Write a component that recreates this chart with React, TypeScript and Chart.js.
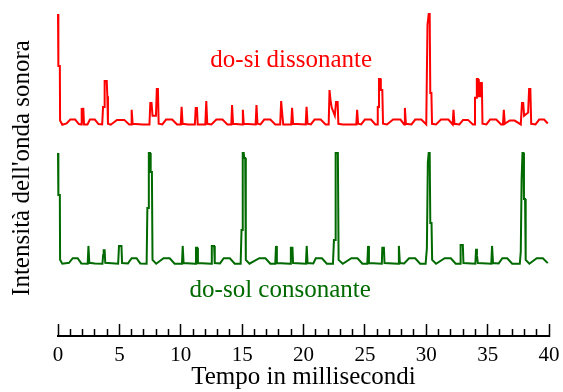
import React, { useEffect, useRef } from "react";
import { Chart, registerables } from "chart.js";

Chart.register(...registerables);

// ---- Data (time in ms, intensity on an arbitrary 0..~104 scale) ----
const RED_X = [
  0, 0.03, 0.15, 0.17, 0.35, 0.7, 1.0, 1.4, 1.7, 1.9, 1.93, 2.0, 2.06, 2.12, 2.4, 2.6, 3.0, 3.3,
  3.6, 3.67, 3.75, 3.8, 3.97, 4.02, 4.07, 4.3, 4.8, 5.4, 5.8, 5.95, 6.0, 6.08, 6.9,
  7.45, 7.52, 7.62, 7.7, 7.98, 8.05, 8.14, 8.2, 8.5, 8.8, 9.3, 9.7, 10.0, 10.07, 10.15, 10.6,
  11.15, 11.22, 11.32, 11.38, 12.0, 12.08, 12.16, 12.5, 12.9, 13.4, 13.8, 14.12, 14.18, 14.26,
  15.0, 15.06, 15.13, 16.1, 16.17, 16.25, 16.5, 16.8, 17.3, 17.7, 18.1, 18.18, 18.28, 18.35,
  19.0, 19.07, 19.15, 20.18, 20.25, 20.33, 20.6, 20.9, 21.4, 21.8, 22.05, 22.12, 22.2, 22.3,
  22.55, 22.65, 22.78, 22.84, 23.2, 24.3, 24.37, 24.45, 24.7, 25.0, 25.5, 25.85, 26.0, 26.05,
  26.12, 26.15, 26.27, 26.3, 26.42, 26.48, 26.8, 27.3, 27.9, 28.2, 28.26, 28.34, 28.8, 29.1,
  29.6, 30.0, 30.1, 30.2, 30.28, 30.33, 30.42, 30.47, 30.8, 31.2, 31.8, 32.15, 32.22, 32.3,
  32.7, 33.0, 33.4, 33.8, 33.92, 33.97, 34.08, 34.12, 34.22, 34.28, 34.4, 34.43, 34.53, 34.58,
  34.9, 35.2, 35.7, 36.1, 36.25, 36.32, 36.4, 36.8, 37.2, 37.7, 37.8, 37.9, 37.97, 38.3,
  38.38, 38.48, 38.55, 38.9, 39.2, 39.6, 39.9,
];
const RED_Y = [
  99.4, 83.3, 83.3, 66.5, 65.2, 65.6, 66.8, 66.8, 65.4, 65.3, 70.4, 68, 70.4, 65.3, 65.3, 66.8, 66.8, 65.4,
  65.3, 70.7, 70.7, 78.7, 78.7, 74, 65.5, 65.2, 66.7, 66.7, 65.3, 65.3, 69.8, 65.5, 65.3,
  65.3, 71.9, 71.9, 68, 68, 76.2, 76.2, 65.5, 65.3, 66.8, 66.8, 65.3, 65.3, 70.7, 65.5, 65.3,
  65.3, 70.4, 70.4, 65.3, 65.3, 72.5, 65.5, 65.3, 66.8, 66.8, 65.3, 65.3, 71.3, 65.5,
  65.3, 69.8, 65.5, 65.3, 71.3, 65.5, 65.3, 66.8, 66.8, 65.3, 65.3, 72.5, 68, 65.3,
  65.3, 70.4, 65.5, 65.3, 70.7, 65.5, 65.3, 66.8, 66.8, 65.3, 65.3, 75.9, 72.8, 70.5,
  68, 72.2, 72.2, 65.5, 65.3, 65.3, 69.8, 65.5, 65.3, 66.8, 66.8, 65.3, 65.3, 70.7,
  70.7, 79.3, 79.3, 75.9, 75.9, 65.5, 65.3, 66.8, 66.8, 65.3, 70.4, 65.5, 65.3, 66.8,
  66.8, 65.3, 96, 99.4, 99.4, 75, 75, 65.5, 65.3, 66.8, 66.8, 65.3, 69.8, 65.5,
  65.3, 66.7, 66.7, 65.3, 65.3, 73.5, 73.5, 79.3, 79.3, 74, 74, 78.1, 78.1, 65.5,
  65.3, 66.8, 66.8, 65.3, 65.3, 69.8, 65.5, 66.5, 66.5, 65.3, 71.9, 71.9, 68, 69,
  76.2, 76.2, 65.5, 65.3, 66.8, 66.8, 65.6,
];

const GREEN_X = [
  0, 0.03, 0.15, 0.17, 0.35, 0.9, 1.2, 1.6, 1.9, 2.42, 2.48, 2.55, 3.0, 3.62, 3.68, 3.72, 3.8, 3.85,
  4.9, 4.97, 5.17, 5.22, 5.7, 6.0, 6.4, 6.7, 7.22, 7.28, 7.35, 7.4, 7.5, 7.55, 7.65, 7.7, 8.0,
  8.6, 9.1, 9.5, 10.1, 10.16, 10.23, 11.18, 11.24, 11.34, 11.4, 12.48, 12.53, 12.72, 12.77,
  13.2, 13.5, 14.0, 14.4, 14.88, 14.95, 15.02, 15.05, 15.13, 15.17, 15.25, 15.3, 15.6, 16.4,
  16.9, 17.3, 17.7, 17.76, 17.83, 18.92, 18.97, 19.1, 19.15, 20.2, 20.26, 20.33, 20.8, 21.0,
  21.5, 21.9, 22.4, 22.48, 22.58, 22.62, 22.8, 22.86, 23.2, 23.9, 24.4, 24.8, 25.2, 25.26,
  25.33, 26.38, 26.42, 26.55, 26.6, 27.7, 27.77, 27.85, 28.2, 28.6, 29.1, 29.5, 29.95, 30.05,
  30.13, 30.2, 30.28, 30.33, 30.43, 30.48, 30.8, 31.5, 32.0, 32.4, 32.75, 32.8, 32.98, 33.03,
  34.0, 34.06, 34.13, 34.2, 35.3, 35.36, 35.44, 35.9, 36.2, 36.6, 37.0, 37.62, 37.7, 37.77,
  37.84, 37.92, 37.96, 38.05, 38.1, 38.4, 39.0, 39.5, 39.9,
];
const GREEN_Y = [
  56.5, 43.5, 43.5, 23.5, 22.3, 22.6, 24, 24, 22.4, 22.3, 27.8, 22.6, 22.4, 22.3, 25, 26.5, 26.5, 22.6,
  22.3, 27.8, 27.8, 22.5, 22.4, 24, 24, 22.4, 22.3, 39.5, 39.5, 56.5, 56.5, 50.6, 50.6, 23.5, 22.3,
  24, 24, 22.3, 22.3, 27.8, 22.5, 22.3, 27.2, 27.2, 22.5, 22.3, 27.8, 27.8, 22.5,
  22.4, 24, 24, 22.3, 22.3, 32.7, 32.7, 56.5, 56.5, 54.9, 54.9, 23.5, 22.3, 24,
  24, 22.3, 22.3, 27.8, 22.5, 22.3, 27.2, 27.2, 22.5, 22.3, 27.8, 22.5, 22.4, 24,
  24, 22.3, 22.3, 29.6, 29.6, 56.5, 56.5, 23.5, 22.3, 24, 24, 22.3, 22.3, 27.8,
  22.5, 22.3, 27.2, 27.2, 22.5, 22.3, 27.8, 22.5, 22.4, 24, 24, 22.3, 22.3, 27,
  53.7, 56.5, 56.5, 34.9, 34.9, 23.5, 22.3, 24, 24, 22.3, 22.3, 28.1, 28.1, 22.5,
  22.3, 26.9, 25, 22.5, 22.3, 27.8, 22.5, 22.4, 24, 24, 22.3, 22.3, 26, 48.5,
  56.5, 56.5, 42.3, 42.3, 23.5, 22.3, 24, 24, 22.5,
];

const SERIES_NAMES = ["do-si dissonante", "do-sol consonante"];
const LABEL_X = [19.0, 18.1]; // ms, label centre
const LABEL_Y = [83.0, 12.0]; // intensity, label baseline
const X_MIN = 0;
const X_MAX = 40;
const X_STEP = 1;
const X_MAJOR = 5;
const Y_MIN = 0;
const Y_MAX = 103.7;
const X_TITLE = "Tempo in millisecondi";
const Y_TITLE = "Intensità dell'onda sonora";

const RED = "#ff0000";
const GREEN = "#006a00";
const COLORS = [RED, GREEN];
const SERIF = "'Liberation Serif', 'Times New Roman', serif";

const seriesLabelPlugin = {
  id: "seriesLabels",
  afterDatasetsDraw(chart: any) {
    const { ctx, scales } = chart;
    const xs = scales.x;
    const ys = scales.y;
    ctx.save();
    ctx.font = `25px ${SERIF}`;
    ctx.textAlign = "center";
    ctx.textBaseline = "alphabetic";
    SERIES_NAMES.forEach((name, i) => {
      ctx.fillStyle = COLORS[i];
      ctx.fillText(name, xs.getPixelForValue(LABEL_X[i]), ys.getPixelForValue(LABEL_Y[i]));
    });
    ctx.restore();
  },
};

export default function App() {
  const canvasRef = useRef<HTMLCanvasElement | null>(null);

  useEffect(() => {
    if (!canvasRef.current) return;
    const toPoints = (xs: number[], ys: number[]) => xs.map((x, i) => ({ x, y: ys[i] }));
    const chart = new Chart(canvasRef.current, {
      type: "line",
      data: {
        datasets: [
          {
            label: SERIES_NAMES[0],
            data: toPoints(RED_X, RED_Y),
            borderColor: RED,
            borderWidth: 2,
            pointRadius: 0,
            tension: 0,
            fill: false,
            clip: false,
          },
          {
            label: SERIES_NAMES[1],
            data: toPoints(GREEN_X, GREEN_Y),
            borderColor: GREEN,
            borderWidth: 2,
            pointRadius: 0,
            tension: 0,
            fill: false,
            clip: false,
          },
        ],
      },
      options: {
        animation: false,
        responsive: false,
        devicePixelRatio: 1,
        layout: { padding: { left: 9.5, right: 14, top: 0, bottom: 0 } },
        plugins: {
          legend: { display: false },
          tooltip: { enabled: false },
        },
        scales: {
          x: {
            type: "linear",
            min: X_MIN,
            max: X_MAX,
            position: "bottom",
            border: { display: true, color: "#000", width: 2 },
            grid: {
              display: true,
              drawOnChartArea: false,
              drawTicks: true,
              tickLength: -12,
              tickColor: "#000",
              tickWidth: 1.5,
              tickBorderDash: (c: any) =>
                c.tick && Math.round(c.tick.value) % X_MAJOR === 0 ? [] : [8, 100],
            },
            ticks: {
              stepSize: X_STEP,
              autoSkip: false,
              maxRotation: 0,
              padding: 2,
              color: "#000",
              font: { family: SERIF, size: 21, lineHeight: 59 / 21 },
              callback: (v: any) => (Math.round(v) % X_MAJOR === 0 ? String(v) : ""),
            },
            title: {
              display: true,
              text: X_TITLE,
              color: "#000",
              font: { family: SERIF, size: 25, lineHeight: 1 },
              padding: { top: -22.5, bottom: 2.5 },
            },
          },
          y: {
            type: "linear",
            min: Y_MIN,
            max: Y_MAX,
            border: { display: false },
            grid: { display: false, drawTicks: false },
            ticks: { display: false },
            title: {
              display: true,
              text: Y_TITLE,
              color: "#000",
              font: { family: SERIF, size: 25, lineHeight: 1 },
              padding: { top: 0, bottom: 23.5 },
            },
          },
        },
      },
      plugins: [seriesLabelPlugin],
    } as any);
    return () => chart.destroy();
  }, []);

  return (
    <div style={{ position: "fixed", left: 0, top: 0, width: 563, height: 392, background: "#fff" }}>
      <canvas ref={canvasRef} width={563} height={392} style={{ display: "block" }} />
    </div>
  );
}
